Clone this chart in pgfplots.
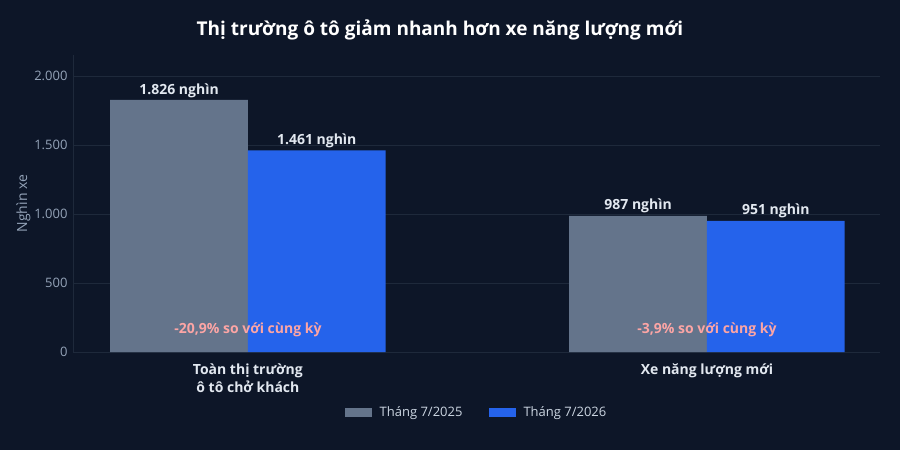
\documentclass[border=0pt]{standalone}
\usepackage{pgfplots}
\pgfplotsset{compat=1.18}
\usepackage{fontspec}
\setmainfont{Open Sans}

\definecolor{bg}{HTML}{0D1628}
\definecolor{gridc}{HTML}{1E293B}
\definecolor{grayc}{HTML}{64748B}
\definecolor{bluec}{HTML}{2563EB}
\definecolor{tickc}{HTML}{94A3B8}
\definecolor{labc}{HTML}{E2E8F0}
\definecolor{pinkc}{HTML}{FCA5A5}
\definecolor{legc}{HTML}{CBD5E1}

\begin{document}
\begin{tikzpicture}[x=1pt,y=1pt]
\fill[bg] (0,0) rectangle (900,450);

\begin{axis}[
  at={(73pt,98pt)}, anchor=south west,
  scale only axis,
  width=807pt, height=297pt,
  xmin=-0.381, xmax=1.377,
  ymin=0, ymax=2152,
  axis background/.style={fill=bg},
  axis line style={gridc},
  axis x line*=bottom,
  axis y line*=left,
  ytick={0,500,1000,1500,2000},
  yticklabels={0,500,1.000,1.500,2.000},
  tick label style={font=\fontsize{13}{15}\selectfont},
  yticklabel style={text=tickc, xshift=-2pt},
  ymajorgrids, grid style={gridc, line width=0.8pt},
  major tick length=0pt,
  xtick={0,1},
  xticklabels={{Toàn thị trường\\ô tô chở khách},{Xe năng lượng mới}},
  xticklabel style={font=\fontsize{14}{18}\selectfont\bfseries, text=labc, align=center, yshift=-8pt},
  ylabel={Nghìn xe},
  ylabel style={font=\fontsize{14}{16}\selectfont, text=tickc},
  every axis y label/.append style={at={(ticklabel cs:0.5)}, yshift=-3pt},
  ybar, bar width=137.7pt,
  nodes near coords,
  point meta=explicit symbolic,
  every node near coord/.append style={font=\fontsize{14}{16}\selectfont\bfseries, text=labc, yshift=-1pt},
  legend style={
    at={(0.5,-0.17)}, anchor=north,
    legend columns=2, draw=none, fill=bg,
    font=\fontsize{13}{15}\selectfont, text=legc,
    /tikz/every odd column/.append style={column sep=6pt},
    /tikz/every even column/.append style={column sep=24pt},
  },
  legend image code/.code={
    \fill[#1] (-8pt,-4.5pt) rectangle (19pt,4.5pt);
  },
  clip=false,
]
\addplot[draw=none, fill=grayc, bar shift=-68.85pt]
  coordinates {(0,1826)[1.826 nghìn] (1,987)[987 nghìn]};
\addplot[draw=none, fill=bluec, bar shift=68.85pt]
  coordinates {(0,1461)[1.461 nghìn] (1,951)[951 nghìn]};
\legend{Tháng 7/2025, Tháng 7/2026}

\node[text=pinkc, font=\fontsize{14}{16}\selectfont\bfseries] at (axis cs:0,159) {-20,9\% so với cùng kỳ};
\node[text=pinkc, font=\fontsize{14}{16}\selectfont\bfseries] at (axis cs:1,159) {-3,9\% so với cùng kỳ};
\end{axis}

\node[text=white, font=\fontsize{19}{22}\selectfont\bfseries] at (440,420) {Thị trường ô tô giảm nhanh hơn xe năng lượng mới};

\pgfresetboundingbox
\useasboundingbox (0,0) rectangle (900,450);
\end{tikzpicture}
\end{document}
